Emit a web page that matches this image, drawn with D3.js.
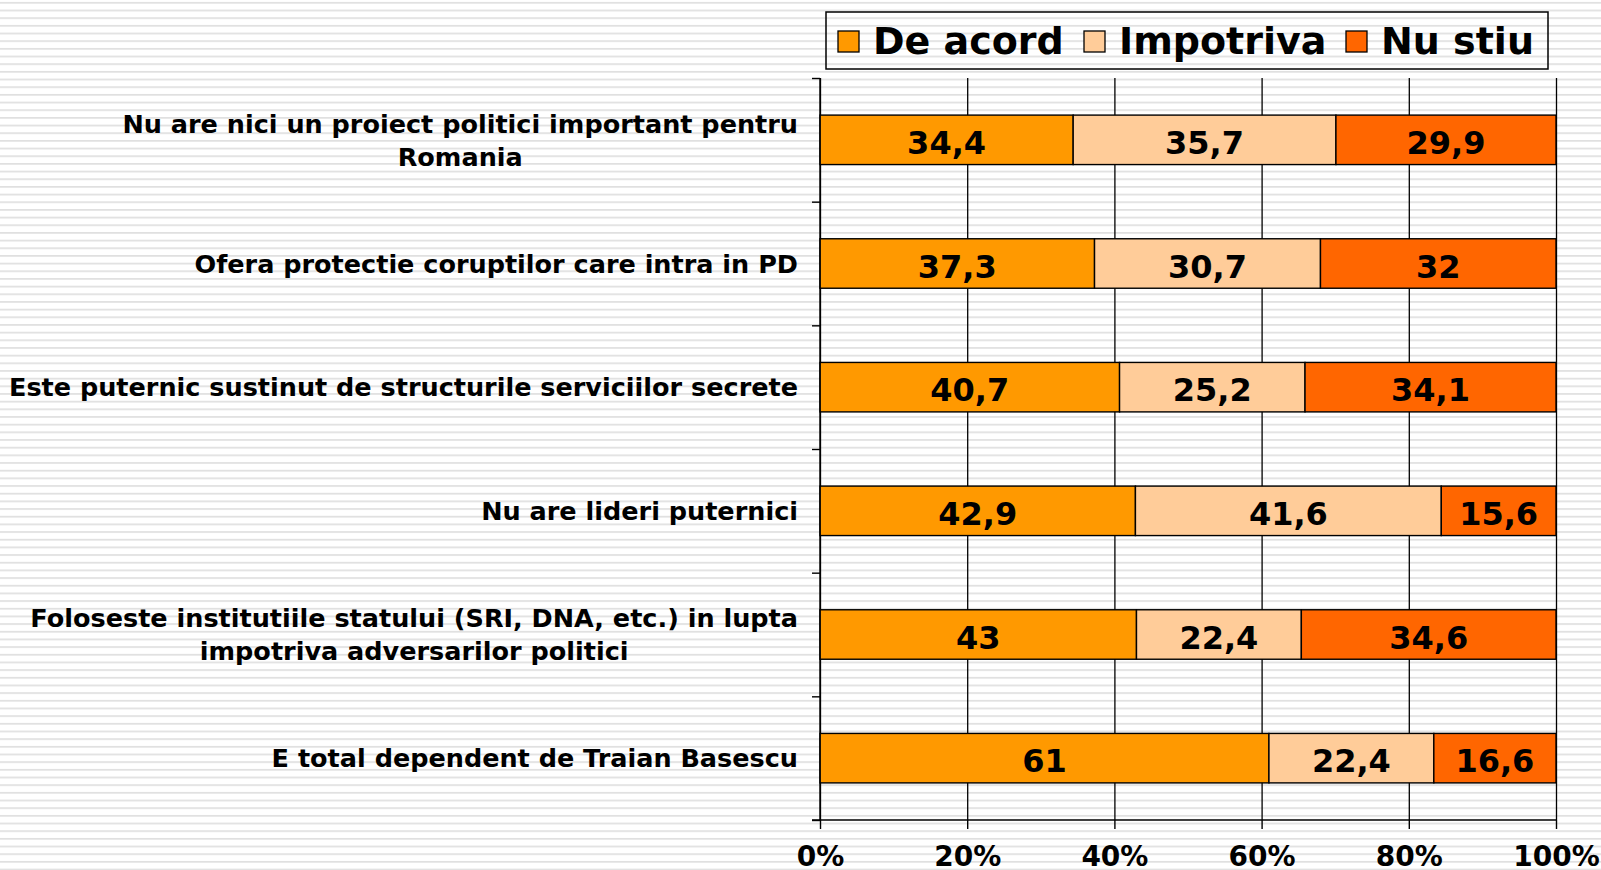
<!DOCTYPE html>
<html>
<head>
<meta charset="utf-8">
<script src="https://cdn.jsdelivr.net/npm/d3@7"></script>
<style>
  body { margin: 0; background: #fff; }
  svg { display: block; }
  text { font-family: "DejaVu Sans", Verdana, sans-serif; font-weight: bold; fill: #000; }
</style>
</head>
<body>
<svg id="chart" width="1601" height="870"></svg>
<script>
// data
const categories = [
  'Nu are nici un proiect politici important pentru|Romania',
  'Ofera protectie coruptilor care intra in PD',
  'Este puternic sustinut de structurile serviciilor secrete',
  'Nu are lideri puternici',
  'Foloseste institutiile statului (SRI, DNA, etc.) in lupta|impotriva adversarilor politici',
  'E total dependent de Traian Basescu'
];
const seriesNames = ['De acord', 'Impotriva', 'Nu stiu'];
const deAcord   = [34.4, 37.3, 40.7, 42.9, 43, 61];
const impotriva = [35.7, 30.7, 25.2, 41.6, 22.4, 22.4];
const nuStiu    = [29.9, 32, 34.1, 15.6, 34.6, 16.6];
const tickValues = [0, 0.2, 0.4, 0.6, 0.8, 1];
const colors = ['#FF9900', '#FFCC99', '#FF6600'];

const rows = categories.map((c, i) => ({
  cat: c,
  'De acord': deAcord[i],
  'Impotriva': impotriva[i],
  'Nu stiu': nuStiu[i]
}));

const svg = d3.select('#chart');

// striped background
const defs = svg.append('defs');
const pat = defs.append('pattern')
  .attr('id', 'stripes')
  .attr('patternUnits', 'userSpaceOnUse')
  .attr('width', 10)
  .attr('height', 7.67);
pat.append('rect').attr('width', 10).attr('height', 7.67).attr('fill', '#fff');
pat.append('rect').attr('y', 2).attr('width', 10).attr('height', 1.6).attr('fill', '#dedede');
svg.append('rect').attr('width', 1601).attr('height', 870).attr('fill', 'url(#stripes)');

// plot area
const plotL = 820, plotR = 1556, plotT = 78, plotB = 820;

const x = d3.scaleLinear().domain([0, 1]).range([plotL, plotR]);
const y = d3.scaleBand()
  .domain(categories)
  .range([plotT, plotB])
  .paddingInner(0.6)
  .paddingOuter(0.3);
const yEdges = d3.scaleLinear().domain([0, categories.length]).range([plotT, plotB]);

const color = d3.scaleOrdinal().domain(seriesNames).range(colors);

// vertical gridlines
svg.append('g')
  .attr('transform', `translate(0,${plotB})`)
  .call(d3.axisBottom(x).tickValues(tickValues).tickSize(-(plotB - plotT)).tickFormat(''))
  .call(g => g.select('.domain').remove())
  .call(g => g.selectAll('line').attr('stroke', '#000').attr('stroke-width', 1.3));

const stack = d3.stack().keys(seriesNames).offset(d3.stackOffsetExpand);
const layers = stack(rows);

const ro = d3.formatLocale({ decimal: ',', thousands: '.', grouping: [3], currency: ['', ''] });
const fmt = ro.format('~g');

const layer = svg.selectAll('.layer')
  .data(layers)
  .enter()
  .append('g')
  .attr('class', 'layer')
  .attr('fill', d => color(d.key));

layer.selectAll('rect')
  .data(d => d)
  .enter()
  .append('rect')
  .attr('x', d => x(d[0]))
  .attr('y', d => y(d.data.cat))
  .attr('width', d => x(d[1]) - x(d[0]))
  .attr('height', y.bandwidth())
  .attr('stroke', '#000')
  .attr('stroke-width', 1.4);

layer.selectAll('text')
  .data(d => d.map(v => Object.assign({ key: d.key }, v)))
  .enter()
  .append('text')
  .attr('x', d => (x(d[0]) + x(d[1])) / 2)
  .attr('y', d => y(d.data.cat) + y.bandwidth() / 2)
  .attr('dy', '0.44em')
  .attr('text-anchor', 'middle')
  .style('font-size', '32px')
  .text(d => fmt(d.data[d.key]));

// y axis with boundary ticks
svg.append('g')
  .attr('transform', `translate(${plotL},0)`)
  .call(d3.axisLeft(yEdges).tickValues(d3.range(categories.length + 1)).tickSize(8).tickFormat(''))
  .call(g => g.select('.domain').attr('stroke-width', 1.4).attr('d', `M0,${plotT}V${plotB}`))
  .call(g => g.selectAll('line').attr('stroke-width', 1.4));

// x axis
svg.append('g')
  .attr('transform', `translate(0,${plotB})`)
  .call(d3.axisBottom(x).tickValues(tickValues).tickSize(9).tickFormat(d3.format('.0%')))
  .call(g => g.select('.domain').attr('stroke-width', 1.4).attr('d', `M${plotL - 8},0H${plotR}`))
  .call(g => g.selectAll('line').attr('stroke-width', 1.4))
  .call(g => g.selectAll('text')
    .attr('y', 46).attr('dy', 0)
    .style('font-size', '28px')
    .style('font-family', '"DejaVu Sans", Verdana, sans-serif'));

// category labels
const labelRight = 798;
const lineH = 33;
categories.forEach(c => {
  const lines = c.split('|');
  const g = svg.append('g');
  const cy = y(c) + y.bandwidth() / 2;
  const texts = lines.map((l, i) => g.append('text')
    .attr('y', cy + (i - (lines.length - 1) / 2) * lineH)
    .attr('dy', '0.36em')
    .attr('text-anchor', 'middle')
    .style('font-size', '25.5px')
    .text(l));
  const w = d3.max(texts, t => t.node().getComputedTextLength());
  texts.forEach(t => t.attr('x', labelRight - w / 2));
});

// legend
svg.append('rect')
  .attr('x', 826).attr('y', 12)
  .attr('width', 722).attr('height', 57)
  .attr('fill', 'none')
  .attr('stroke', '#000')
  .attr('stroke-width', 1.5);

const legendX = [838, 1084, 1346];
const legend = svg.selectAll('.legend')
  .data(seriesNames)
  .enter()
  .append('g')
  .attr('class', 'legend')
  .attr('transform', (d, i) => `translate(${legendX[i]},31)`);

legend.append('rect')
  .attr('width', 21).attr('height', 21)
  .attr('fill', d => color(d))
  .attr('stroke', '#000')
  .attr('stroke-width', 1.3);

legend.append('text')
  .attr('x', 35)
  .attr('y', 23)
  .style('font-size', '38px')
  .text(d => d);
</script>
</body>
</html>
